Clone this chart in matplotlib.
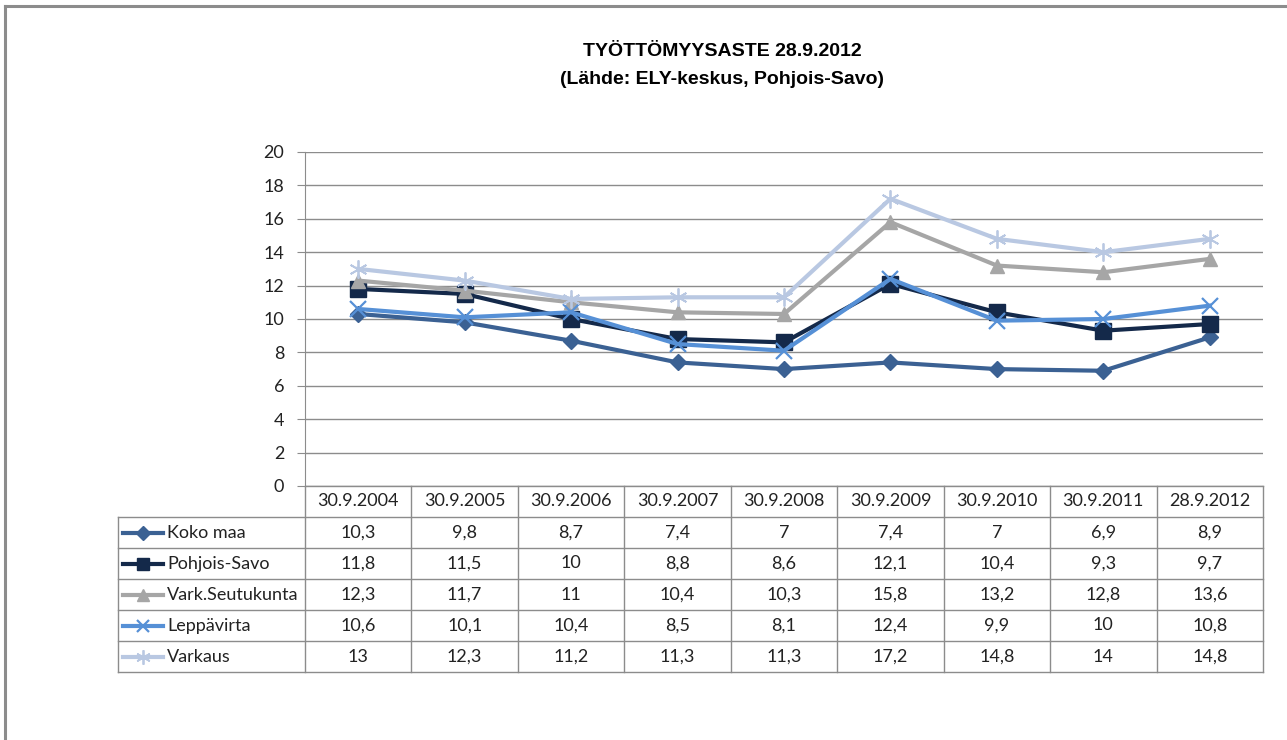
import matplotlib
matplotlib.use("Agg")
import matplotlib.pyplot as plt
from matplotlib.transforms import blended_transform_factory
from matplotlib.lines import Line2D

categories = ["30.9.2004", "30.9.2005", "30.9.2006", "30.9.2007", "30.9.2008",
              "30.9.2009", "30.9.2010", "30.9.2011", "28.9.2012"]
series_names = ["Koko maa", "Pohjois-Savo", "Vark.Seutukunta", "Leppävirta", "Varkaus"]
koko_maa = [10.3, 9.8, 8.7, 7.4, 7.0, 7.4, 7.0, 6.9, 8.9]
pohjois_savo = [11.8, 11.5, 10.0, 8.8, 8.6, 12.1, 10.4, 9.3, 9.7]
vark_seutukunta = [12.3, 11.7, 11.0, 10.4, 10.3, 15.8, 13.2, 12.8, 13.6]
leppavirta = [10.6, 10.1, 10.4, 8.5, 8.1, 12.4, 9.9, 10.0, 10.8]
varkaus = [13.0, 12.3, 11.2, 11.3, 11.3, 17.2, 14.8, 14.0, 14.8]
y_ticks = [0, 2, 4, 6, 8, 10, 12, 14, 16, 18, 20]

series = [koko_maa, pohjois_savo, vark_seutukunta, leppavirta, varkaus]
colors = ["#3B6193", "#14294A", "#A6A6A6", "#5690D6", "#B9C8E2"]
markers = ["D", "s", "^", "x", (6, 2, 0)]
msizes = [8.5, 11, 10, 11, 13]
mews = [1, 1, 1, 1.6, 1.3]

W, H = 1287, 740
fig = plt.figure(figsize=(W / 100, H / 100), dpi=100)
fig.patch.set_facecolor("white")

def fx(px):
    return px / W

def fy(py):
    return 1 - py / H

# outer frame (top and left gray border)
fig.add_artist(Line2D([fx(5), fx(W)], [fy(6), fy(6)], color="#8C8C8C", lw=2.2))
fig.add_artist(Line2D([fx(5), fx(5)], [fy(6), fy(H)], color="#8C8C8C", lw=2.2))

ax_l, ax_r, ax_t, ax_b = 305, 1263, 152, 486
ax = fig.add_axes([fx(ax_l), fy(ax_b), fx(ax_r - ax_l), (ax_b - ax_t) / H])

xs = list(range(len(categories)))
for name, vals, c, m, ms, mew in zip(series_names, series, colors, markers, msizes, mews):
    ax.plot(xs, vals, color=c, lw=3, marker=m, markersize=ms,
            markeredgewidth=mew, markeredgecolor=c, markerfacecolor=c, label=name,
            solid_joinstyle="round")

ax.set_xlim(-0.5, len(categories) - 0.5)
ax.set_ylim(0, 20)
ax.set_yticks(y_ticks)
ax.set_yticklabels([str(t) for t in y_ticks], fontsize=13, family="Lato", color="#222222")
ax.set_xticks([])
ax.yaxis.grid(True, color="#8C8C8C", lw=1)
ax.set_axisbelow(True)
for s in ["top", "right", "bottom"]:
    ax.spines[s].set_visible(False)
ax.spines["left"].set_color("#8C8C8C")
ax.tick_params(axis="y", length=6, color="#8C8C8C", pad=9)

# data table
tr = blended_transform_factory(ax.transData, fig.transFigure)
row_edges = [486, 517, 548, 579, 610, 641, 672]
tbl_left = 118
line_c = "#8C8C8C"
for i, py in enumerate(row_edges):
    x0 = ax_l if i == 0 else tbl_left
    fig.add_artist(Line2D([fx(x0), fx(ax_r)], [fy(py), fy(py)], color=line_c, lw=1))
for k in range(len(categories) + 1):
    fig.add_artist(Line2D([k - 0.5, k - 0.5], [fy(486), fy(672)], color=line_c, lw=1,
                          transform=tr))
fig.add_artist(Line2D([fx(tbl_left)] * 2, [fy(517), fy(672)], color=line_c, lw=1))

tfont = dict(fontsize=13, family="Lato", color="#222222")
for k, cat in enumerate(categories):
    fig.text(k, fy((row_edges[0] + row_edges[1]) / 2), cat, transform=tr,
             ha="center", va="center", **tfont)

def fmt(v):
    s = ("%.1f" % v)
    if s.endswith(".0"):
        s = s[:-2]
    return s.replace(".", ",")

for r, (name, vals, c, m, ms, mew) in enumerate(zip(series_names, series, colors, markers, msizes, mews)):
    yc = fy((row_edges[r + 1] + row_edges[r + 2]) / 2)
    for k, v in enumerate(vals):
        fig.text(k, yc, fmt(v), transform=tr, ha="center", va="center", **tfont)
    fig.add_artist(Line2D([fx(123), fx(163)], [yc, yc], color=c, lw=3))
    fig.add_artist(Line2D([fx(143)], [yc], color=c, marker=m, markersize=ms * 0.8,
                          markeredgewidth=mew, markeredgecolor=c, markerfacecolor=c))
    fig.text(fx(167), yc, name, ha="left", va="center", **tfont)

# title
tfam = ["Liberation Sans Narrow", "Liberation Sans", "DejaVu Sans"]
fig.text(fx(722), fy(52), "TYÖTTÖMYYSASTE 28.9.2012", ha="center", va="center",
         fontsize=14, fontweight="bold", family=tfam)
fig.text(fx(722), fy(80), "(Lähde: ELY-keskus, Pohjois-Savo)", ha="center", va="center",
         fontsize=14, fontweight="bold", family=tfam)

fig.savefig("out.png", dpi=100)
